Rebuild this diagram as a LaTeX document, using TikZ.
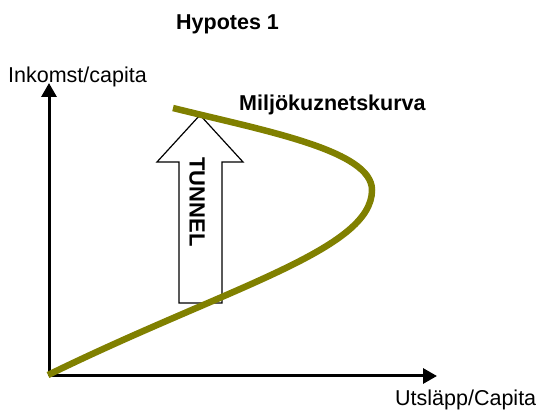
\documentclass[tikz,border=0pt]{standalone}
\usepackage{fontspec}
\setmainfont{Liberation Sans}
\usetikzlibrary{arrows.meta}
\definecolor{curveolive}{HTML}{808000}
\tikzset{
  axis/.style={line width=3pt, -{Triangle[length=14pt,width=15pt]}},
  lbl/.style={inner sep=0pt, anchor=base west, font=\fontsize{21.5}{24}\selectfont},
  blbl/.style={inner sep=0pt, anchor=base west, font=\fontsize{21.5}{24}\selectfont\bfseries},
  kurva/.style={line width=6.5pt, color=curveolive},
  tunnelarrow/.style={draw=black, fill=white, line width=1.2pt, line join=miter}
}
\begin{document}
\begin{tikzpicture}[x=1pt,y=-1pt]
\useasboundingbox (0,0) rectangle (538,411);
% axes
\coordinate (origin) at (49,376);
\coordinate (ytop) at (49,83);
\coordinate (xend) at (437,376);
\draw[axis] (origin) -- (ytop);
\draw[axis] (origin) -- (xend);
% tunnel arrow
\draw[tunnelarrow] (179,303) -- (179,162) -- (157,162) -- (200,115) -- (243,162) -- (222,162) -- (222,303) -- cycle;
\node[rotate=-90, inner sep=0pt, font=\fontsize{22}{24}\selectfont\bfseries] (tunnel) at (197,202) {TUNNEL};
% curve
\coordinate (kstart) at (48,375);
\coordinate (kright) at (372,190);
\coordinate (kend) at (173,108);
\draw[kurva] (kstart) .. controls (228,287) and (372,250) .. (kright)
  .. controls (372,150) and (263,130.5) .. (kend);
% labels
\node[blbl] (title) at (176,30) {Hypotes 1};
\node[blbl] (mk) at (239,111) {Miljökuznetskurva};
\node[lbl] (ylab) at (8,83) {Inkomst/capita};
\node[lbl] (xlab) at (395,405) {Utsläpp/Capita};
\end{tikzpicture}
\end{document}
